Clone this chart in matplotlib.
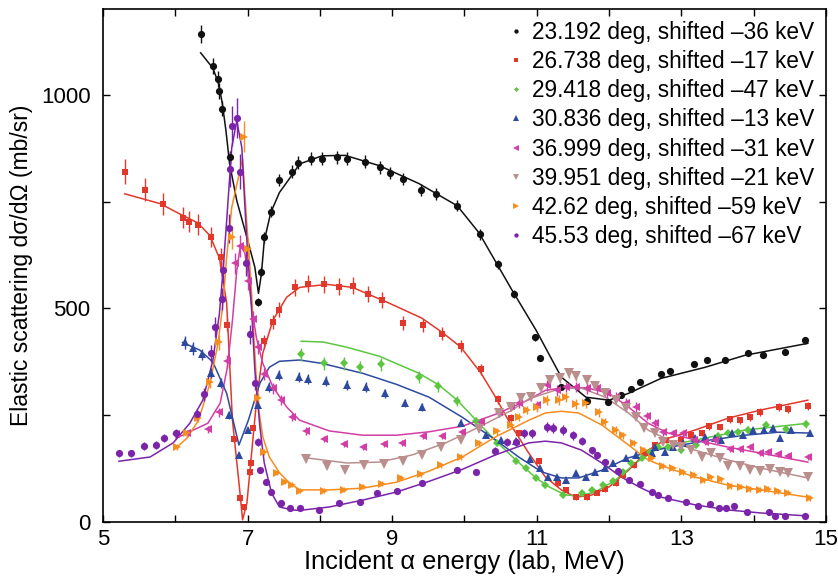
import matplotlib
matplotlib.use("Agg")
import matplotlib.pyplot as plt
from matplotlib.lines import Line2D
from matplotlib.ticker import MultipleLocator, FixedLocator
import numpy as np

plt.rcParams['font.family'] = ['Liberation Sans', 'DejaVu Sans']

# ---- data ----
# 23.192 deg
bx = [6.35, 6.52, 6.59, 6.60, 6.65, 6.75, 7.15, 7.18, 7.23, 7.32, 7.44, 7.61, 7.70, 7.88, 8.03, 8.23,
      8.38, 8.63, 8.83, 8.97, 9.15, 9.40, 9.61, 9.90, 10.21, 10.46, 10.68, 10.97, 11.04, 11.34, 11.70,
      11.99, 12.16, 12.31, 12.43, 12.72, 12.85, 13.18, 13.36, 13.61, 13.92, 14.13, 14.43, 14.71]
by = [1142, 1067, 1037, 1009, 967, 853, 514, 586, 666, 726, 801, 820, 841, 850, 850, 853,
      850, 843, 830, 817, 803, 776, 768, 740, 673, 603, 533, 432, 383, 316, 283,
      280, 297, 311, 327, 346, 353, 369, 378, 378, 395, 390, 397, 425]
bfx = [6.35, 6.52, 6.60, 6.65, 6.70, 6.75, 6.85, 6.99, 7.10, 7.15, 7.19, 7.23, 7.32, 7.44, 7.61, 7.72,
       8.03, 8.35, 8.82, 9.37, 9.90, 10.20, 10.66, 10.99, 11.34, 11.68, 12.00, 12.27, 12.72, 13.33,
       13.88, 14.75]
bfy = [1098, 1062, 1025, 979, 916, 839, 752, 666, 596, 535, 580, 658, 724, 771, 811, 838,
       857, 858, 834, 792, 740, 677, 542, 449, 339, 292, 285, 301, 336, 362, 390, 418]

# 26.738 deg
rx = [5.30, 5.58, 5.83, 6.10, 6.19, 6.32, 6.49, 6.63, 6.72, 6.81, 6.89, 6.95, 7.03, 7.05, 7.08, 7.23,
      7.35, 7.44, 7.65, 7.84, 8.06, 8.26, 8.46, 8.66, 8.86, 9.15, 9.43, 9.69, 9.95, 10.23, 10.46, 10.64,
      10.75, 11.03, 11.29, 11.41, 11.54, 11.69, 11.83, 11.95, 12.09, 12.20, 12.34, 12.50, 12.64, 12.79,
      13.00, 13.14, 13.28, 13.39, 13.54, 13.68, 13.81, 13.95, 14.09, 14.35, 14.48, 14.75]
ry = [820, 778, 745, 712, 703, 696, 668, 619, 462, 194, 56, 35, 117, 138, 220, 423,
      467, 497, 549, 558, 556, 551, 553, 533, 519, 465, 460, 441, 411, 357, 287, 243,
      208, 142, 91, 75, 58, 58, 68, 77, 91, 110, 133, 161, 180, 192,
      192, 203, 208, 224, 222, 240, 238, 245, 257, 269, 264, 271]
rfx = [5.30, 5.79, 6.06, 6.31, 6.48, 6.61, 6.71, 6.79, 6.89, 6.93, 6.99, 7.05, 7.12, 7.21, 7.35, 7.54,
       7.72, 8.10, 8.45, 8.96, 9.41, 9.69, 9.95, 10.23, 10.43, 10.66, 10.89, 11.12, 11.34, 11.54, 11.76,
       12.00, 12.27, 12.54, 12.82, 13.19, 13.65, 14.10, 14.75]
rfy = [768, 745, 721, 700, 670, 617, 512, 238, 75, 5, 44, 152, 278, 395, 472, 526,
       549, 556, 549, 512, 477, 444, 409, 348, 292, 222, 161, 105, 75, 58, 63,
       82, 121, 168, 196, 215, 243, 262, 285]

# 29.418 deg
gx = [7.74, 8.05, 8.34, 8.55, 8.85, 9.37, 9.63, 9.90, 10.16, 10.45, 10.71, 10.85, 10.99, 11.12, 11.37,
      11.62, 11.76, 11.92, 12.06, 12.20, 12.31, 12.45, 12.57, 12.68, 12.82, 12.99, 13.21, 13.51, 13.65,
      13.79, 13.92, 14.17, 14.45, 14.72]
gy = [392, 371, 371, 362, 369, 339, 318, 283, 236, 185, 142, 126, 103, 86, 63,
      68, 75, 86, 96, 117, 138, 150, 164, 175, 175, 168, 180, 202, 208,
      210, 215, 228, 218, 229]
gfx = [7.74, 8.05, 8.37, 8.82, 9.37, 9.65, 9.90, 10.20, 10.43, 10.71, 10.99, 11.17, 11.40, 11.58, 11.81,
       12.09, 12.37, 12.64, 13.00, 13.41, 13.88, 14.75]
gfy = [423, 421, 409, 388, 348, 320, 285, 231, 190, 145, 103, 82, 63, 61, 70,
       98, 138, 168, 185, 199, 215, 231]

# 30.836 deg
ux = [6.13, 6.24, 6.37, 6.50, 6.63, 6.74, 6.88, 7.01, 7.14, 7.29, 7.43, 7.71, 7.83, 8.09, 8.38, 8.64,
      8.90, 9.18, 9.41, 9.95, 10.30, 10.50, 10.71, 10.91, 11.04, 11.15, 11.28, 11.41, 11.55, 11.68, 11.81,
      11.95, 12.05, 12.23, 12.38, 12.59, 12.64, 12.77, 12.89, 13.03, 13.19, 13.33, 13.47, 13.55, 13.70,
      13.86, 13.99, 14.14, 14.27, 14.37, 14.52, 14.78]
uy = [420, 406, 392, 348, 325, 250, 157, 215, 273, 316, 344, 340, 334, 329, 320, 316,
      301, 278, 269, 232, 203, 192, 189, 147, 126, 105, 105, 98, 114, 105, 117,
      126, 138, 150, 157, 161, 175, 164, 175, 185, 196, 199, 196, 192, 208,
      203, 215, 215, 220, 196, 215, 208]
ufx = [6.10, 6.34, 6.52, 6.71, 6.88, 7.01, 7.17, 7.30, 7.44, 7.72, 8.03, 8.59, 9.06, 9.51, 9.97,
       10.43, 10.75, 11.07, 11.34, 11.58, 11.90, 12.27, 12.64, 13.00, 13.41, 13.88, 14.34, 14.78]
ufy = [420, 402, 374, 301, 180, 238, 325, 362, 376, 379, 371, 348, 322, 292, 245,
       192, 152, 117, 103, 103, 121, 150, 168, 180, 192, 203, 210, 208]

# 36.999 deg
mx = [6.01, 6.16, 6.45, 6.60, 6.72, 6.83, 6.89, 7.01, 7.08, 7.15, 7.23, 7.35, 7.46, 7.62, 7.81, 8.05,
      8.34, 8.59, 8.88, 9.14, 9.42, 9.69, 9.97, 10.23, 10.48, 10.64, 10.75, 11.00, 11.14, 11.28, 11.40,
      11.55, 11.69, 11.83, 11.97, 12.09, 12.23, 12.37, 12.52, 12.64, 12.75, 12.89, 13.03, 13.17, 13.33,
      13.47, 13.68, 13.81, 13.95, 14.09, 14.20, 14.34, 14.48, 14.75]
my = [206, 208, 217, 257, 376, 605, 645, 565, 474, 409, 346, 313, 285, 245, 213, 194,
      182, 175, 182, 185, 201, 201, 210, 234, 257, 271, 278, 273, 320, 308, 316,
      316, 313, 313, 301, 292, 278, 269, 248, 231, 210, 208, 208, 192, 187,
      192, 171, 171, 175, 161, 164, 158, 155, 152]
mfx = [6.01, 6.16, 6.45, 6.62, 6.72, 6.79, 6.85, 6.90, 6.96, 7.00, 7.05, 7.12, 7.21, 7.35, 7.54, 7.72,
       8.13, 8.59, 9.06, 9.51, 9.97, 10.43, 10.89, 11.12, 11.44, 11.72, 12.00, 12.27, 12.54, 12.82,
       13.19, 13.65, 14.10, 14.75]
mfy = [196, 208, 231, 278, 362, 472, 589, 647, 630, 589, 512, 432, 371, 316, 269, 238,
       213, 203, 203, 211, 224, 252, 286, 308, 316, 313, 301, 269, 231, 208,
       192, 175, 161, 140]

# 39.951 deg
tx = [7.81, 8.10, 8.35, 8.61, 8.88, 9.15, 9.41, 9.68, 9.95, 10.20, 10.48, 10.64, 10.78, 10.92, 11.06,
      11.18, 11.32, 11.44, 11.55, 11.69, 11.81, 11.95, 12.09, 12.23, 12.37, 12.48, 12.64, 12.75, 12.89,
      13.00, 13.14, 13.28, 13.41, 13.54, 13.65, 13.81, 13.95, 14.09, 14.23, 14.37, 14.48, 14.75]
ty = [147, 131, 122, 133, 136, 143, 157, 175, 192, 217, 255, 269, 290, 292, 313,
      332, 336, 348, 341, 332, 318, 301, 285, 266, 245, 220, 208, 187, 180,
      175, 168, 152, 161, 150, 131, 130, 122, 119, 124, 117, 114, 105]
tfx = [7.81, 8.37, 8.82, 9.28, 9.74, 10.20, 10.66, 10.89, 11.34, 11.62, 11.95, 12.27, 12.54, 12.82,
       13.19, 13.65, 14.10, 14.75]
tfy = [150, 138, 140, 157, 185, 222, 262, 288, 313, 313, 292, 255, 215, 192,
       168, 145, 126, 103]

# 42.62 deg
ox = [6.02, 6.16, 6.32, 6.48, 6.60, 6.78, 6.95, 7.00, 7.14, 7.23, 7.40, 7.52, 7.61, 7.72, 8.06, 8.34,
      8.59, 8.86, 9.12, 9.40, 9.68, 9.95, 10.20, 10.45, 10.64, 10.75, 10.86, 11.00, 11.14, 11.31, 11.40,
      11.55, 11.68, 11.86, 11.95, 12.09, 12.20, 12.34, 12.48, 12.59, 12.75, 12.89, 13.03, 13.17, 13.32,
      13.41, 13.55, 13.69, 13.83, 13.95, 14.09, 14.20, 14.34, 14.48, 14.78]
oy = [175, 208, 243, 327, 420, 666, 902, 640, 290, 164, 115, 94, 87, 73, 73, 75,
      82, 89, 103, 112, 133, 152, 185, 212, 228, 245, 262, 269, 285, 285, 292,
      276, 278, 257, 234, 215, 203, 185, 168, 150, 131, 126, 117, 110, 98,
      105, 100, 84, 82, 77, 75, 77, 72, 68, 56]
ofx = [6.02, 6.16, 6.32, 6.48, 6.59, 6.66, 6.71, 6.78, 6.93, 6.98, 7.03, 7.05, 7.10, 7.14, 7.21, 7.30,
       7.44, 7.58, 7.72, 8.13, 8.59, 9.06, 9.51, 9.97, 10.43, 10.89, 11.12, 11.34, 11.58, 11.90, 12.27,
       12.54, 12.82, 13.19, 13.65, 14.10, 14.75]
ofy = [175, 196, 238, 325, 418, 512, 620, 736, 850, 720, 600, 549, 395, 278, 199, 152,
       115, 91, 75, 75, 79, 93, 119, 152, 199, 238, 255, 259, 255, 227, 180,
       145, 126, 105, 86, 75, 58]

# 45.53 deg
qx = [5.22, 5.39, 5.57, 5.73, 5.84, 6.01, 6.30, 6.39, 6.50, 6.55, 6.64, 6.66, 6.74, 6.75, 6.78, 6.85,
      6.89, 6.98, 7.03, 7.10, 7.15, 7.17, 7.26, 7.33, 7.46, 7.59, 7.72, 7.99, 8.26, 8.56, 8.79, 9.07,
      9.41, 9.90, 10.16, 10.42, 10.59, 10.71, 10.82, 10.94, 11.14, 11.22, 11.36, 11.50, 11.62, 11.76,
      11.84, 11.95, 12.12, 12.28, 12.43, 12.60, 12.68, 12.81, 13.06, 13.23, 13.40, 13.52, 13.62, 13.73,
      13.91, 14.21, 14.29, 14.43, 14.71]
qy = [161, 161, 178, 180, 196, 208, 252, 299, 395, 456, 521, 589, 687, 825, 927, 946,
      820, 605, 439, 325, 187, 121, 94, 70, 44, 33, 33, 28, 44, 47, 68, 73,
      91, 121, 117, 166, 187, 187, 208, 208, 222, 220, 215, 203, 189, 168,
      157, 140, 119, 98, 89, 70, 63, 56, 47, 37, 42, 33, 33, 37,
      23, 23, 15, 15, 15]
qfx = [5.22, 5.65, 5.97, 6.20, 6.38, 6.52, 6.61, 6.66, 6.71, 6.78, 6.85, 6.92, 6.96, 7.00, 7.05, 7.10,
       7.17, 7.23, 7.33, 7.44, 7.62, 7.72, 8.13, 8.59, 9.06, 9.51, 9.97, 10.43, 10.89, 11.12, 11.34,
       11.62, 11.90, 12.17, 12.45, 12.72, 13.19, 13.65, 14.10, 14.75]
qfy = [142, 152, 185, 231, 285, 379, 488, 589, 705, 876, 939, 876, 745, 628, 512, 355,
       222, 138, 68, 35, 28, 27, 35, 51, 70, 95, 123, 157, 185, 189, 185,
       168, 138, 105, 79, 58, 40, 28, 21, 14]

labels = ["23.192 deg, shifted \u201336 keV", "26.738 deg, shifted \u201317 keV",
          "29.418 deg, shifted \u201347 keV", "30.836 deg, shifted \u201313 keV",
          "36.999 deg, shifted \u201331 keV", "39.951 deg, shifted \u201321 keV",
          "42.62 deg, shifted \u201359 keV", "45.53 deg, shifted \u201367 keV"]

series = [
    (bx, by, bfx, bfy, "#111111", "o", 5.2, 0.018),
    (rx, ry, rfx, rfy, "#e2382b", "s", 4.6, 0.035),
    (gx, gy, gfx, gfy, "#5cc641", "D", 4.2, 0.04),
    (ux, uy, ufx, ufy, "#2d4aa0", "^", 6.4, 0.035),
    (mx, my, mfx, mfy, "#d23ea6", "<", 6.4, 0.04),
    (tx, ty, tfx, tfy, "#bb8e8e", "v", 6.6, 0.03),
    (ox, oy, ofx, ofy, "#f58d1f", ">", 6.4, 0.04),
    (qx, qy, qfx, qfy, "#7b24a9", "o", 5.2, 0.05),
]

fig = plt.figure(figsize=(8.38, 5.78), dpi=100)
ax = fig.add_axes([0.123, 0.097, 0.8625, 0.887])

handles = []
for (x, y, fx, fy, c, m, ms, ef), lab in zip(series, labels):
    y = np.array(y, dtype=float)
    err = np.maximum(ef * y, 6)
    ax.errorbar(x, y, yerr=err, fmt=m, color=c, ms=ms, mew=0, elinewidth=1.0,
                capsize=1.8, capthick=1.0, zorder=3)
    ax.plot(fx, fy, "-", color=c, lw=1.1, zorder=2)
    handles.append(Line2D([], [], ls="none", marker=m, color=c, ms=ms * 0.6, mew=0, label=lab))

ax.set_xlim(5, 15)
ax.set_ylim(0, 1200)
ax.xaxis.set_major_locator(FixedLocator([5, 7, 9, 11, 13, 15]))
ax.xaxis.set_minor_locator(MultipleLocator(1))
ax.yaxis.set_major_locator(MultipleLocator(500))
ax.yaxis.set_minor_locator(MultipleLocator(250))
ax.tick_params(which="both", direction="in", top=True, right=True, length=5, width=1.0,
               labelsize=16)
ax.tick_params(axis="x", pad=5)
ax.tick_params(axis="y", pad=9)
for s in ax.spines.values():
    s.set_linewidth(1.2)

ax.set_xlabel("Incident \u03b1 energy (lab, MeV)", fontsize=18.3, labelpad=0)
ax.set_ylabel("Elastic scattering d\u03c3/d\u03a9 (mb/sr)", fontsize=16.5, labelpad=6)

ax.legend(handles=handles, loc="upper right", bbox_to_anchor=(1.0, 0.999), frameon=False,
          fontsize=16.3, handlelength=0.6, handletextpad=0.4, labelspacing=0.27,
          borderaxespad=0.1)

fig.savefig("out.png", dpi=100)
